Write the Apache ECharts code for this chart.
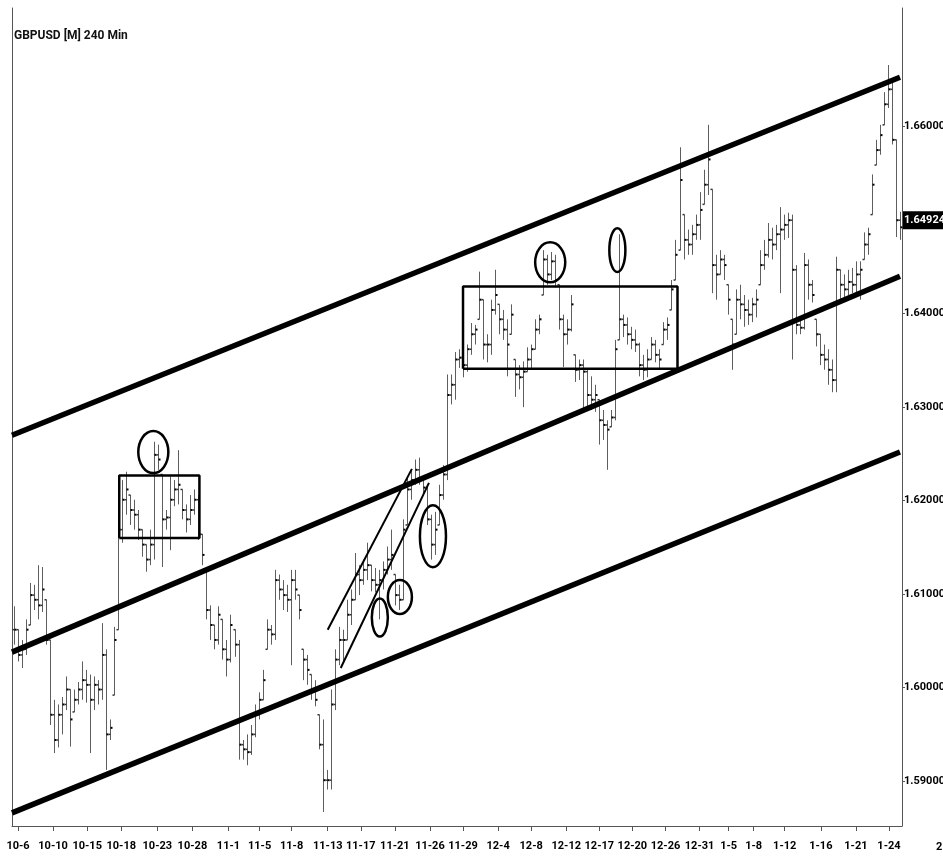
<!DOCTYPE html>
<html>
<head>
<meta charset="utf-8">
<title>GBPUSD [M] 240 Min</title>
<script src="https://cdn.jsdelivr.net/npm/echarts@6/dist/echarts.min.js"></script>
<style>
html, body { margin: 0; padding: 0; background: #fff; }
#main { width: 943px; height: 867px; }
</style>
</head>
<body>
<div id="main"></div>
<script>
// GBPUSD 240 min bars (one entry per bar)
var barHigh = [
  1.6087, 1.6062, 1.6051, 1.6073, 1.6112, 1.6110, 1.6131, 1.6129, 1.6094, 1.6051,
  1.5987, 1.5982, 1.5990, 1.6012, 1.5998, 1.5998, 1.6006, 1.6028, 1.6019, 1.6014,
  1.6012, 1.6008, 1.6069, 1.6041, 1.5966, 1.6065, 1.6180, 1.6222, 1.6231, 1.6206,
  1.6201, 1.6190, 1.6169, 1.6153, 1.6169, 1.6263, 1.6260, 1.6228, 1.6190, 1.6226,
  1.6222, 1.6254, 1.6212, 1.6196, 1.6206, 1.6212, 1.6206, 1.6164, 1.6126, 1.6088,
  1.6067, 1.6087, 1.6073, 1.6051, 1.6078, 1.6062, 1.6051, 1.5944, 1.5950, 1.5960,
  1.5982, 1.5995, 1.6019, 1.6073, 1.6067, 1.6126, 1.6121, 1.6115, 1.6110, 1.6126,
  1.6126, 1.6099, 1.6041, 1.6035, 1.6014, 1.6008, 1.5971, 1.5966, 1.5912, 1.5998,
  1.6041, 1.6065, 1.6062, 1.6094, 1.6105, 1.6144, 1.6131, 1.6137, 1.6155, 1.6131,
  1.6128, 1.6126, 1.6135, 1.6151, 1.6169, 1.6121, 1.6110, 1.6180, 1.6224, 1.6233,
  1.6244, 1.6246, 1.6224, 1.6217, 1.6185, 1.6188, 1.6217, 1.6238, 1.6335, 1.6335,
  1.6359, 1.6362, 1.6356, 1.6367, 1.6390, 1.6388, 1.6445, 1.6415, 1.6378, 1.6415,
  1.6447, 1.6410, 1.6404, 1.6394, 1.6410, 1.6351, 1.6345, 1.6349, 1.6364, 1.6367,
  1.6394, 1.6399, 1.6468, 1.6463, 1.6466, 1.6463, 1.6431, 1.6399, 1.6394, 1.6420,
  1.6356, 1.6351, 1.6351, 1.6340, 1.6333, 1.6324, 1.6308, 1.6297, 1.6286, 1.6297,
  1.6372, 1.6485, 1.6399, 1.6396, 1.6386, 1.6383, 1.6369, 1.6356, 1.6362, 1.6375,
  1.6372, 1.6362, 1.6391, 1.6396, 1.6436, 1.6479, 1.6578, 1.6506, 1.6490, 1.6495,
  1.6506, 1.6530, 1.6554, 1.6602, 1.6533, 1.6463, 1.6468, 1.6463, 1.6431, 1.6394,
  1.6426, 1.6431, 1.6420, 1.6415, 1.6417, 1.6426, 1.6468, 1.6479, 1.6497, 1.6492,
  1.6495, 1.6514, 1.6506, 1.6508, 1.6506, 1.6452, 1.6396, 1.6465, 1.6458, 1.6436,
  1.6394, 1.6378, 1.6367, 1.6362, 1.6351, 1.6461, 1.6447, 1.6442, 1.6447, 1.6449,
  1.6456, 1.6456, 1.6487, 1.6492, 1.6549, 1.6586, 1.6602, 1.6637, 1.6666, 1.6650,
  1.6586, 1.6509
];
var barLow = [
  1.6046, 1.6028, 1.6021, 1.6035, 1.6067, 1.6083, 1.6073, 1.6081, 1.6046, 1.5960,
  1.5930, 1.5936, 1.5950, 1.5976, 1.5937, 1.5974, 1.5982, 1.5987, 1.5984, 1.5930,
  1.5976, 1.5982, 1.5987, 1.5912, 1.5944, 1.5992, 1.6062, 1.6155, 1.6185, 1.6174,
  1.6169, 1.6158, 1.6140, 1.6124, 1.6131, 1.6137, 1.6233, 1.6129, 1.6169, 1.6147,
  1.6194, 1.6196, 1.6180, 1.6166, 1.6174, 1.6185, 1.6158, 1.6131, 1.6073, 1.6051,
  1.6041, 1.6046, 1.6030, 1.6012, 1.6027, 1.6033, 1.5923, 1.5923, 1.5917, 1.5928,
  1.5947, 1.5966, 1.5987, 1.6041, 1.6046, 1.6051, 1.6094, 1.6083, 1.6081, 1.6024,
  1.6094, 1.6073, 1.6008, 1.6003, 1.5987, 1.5980, 1.5934, 1.5867, 1.5891, 1.5891,
  1.5976, 1.6024, 1.6028, 1.6051, 1.6067, 1.6094, 1.6099, 1.6110, 1.6115, 1.6103,
  1.6102, 1.6073, 1.6105, 1.6121, 1.6126, 1.6088, 1.6083, 1.6094, 1.6174, 1.6201,
  1.6217, 1.6217, 1.6206, 1.6174, 1.6137, 1.6142, 1.6174, 1.6201, 1.6222, 1.6303,
  1.6308, 1.6342, 1.6332, 1.6338, 1.6356, 1.6367, 1.6394, 1.6351, 1.6348, 1.6356,
  1.6399, 1.6378, 1.6372, 1.6333, 1.6378, 1.6311, 1.6319, 1.6300, 1.6338, 1.6340,
  1.6362, 1.6378, 1.6420, 1.6431, 1.6436, 1.6428, 1.6383, 1.6343, 1.6367, 1.6381,
  1.6327, 1.6329, 1.6297, 1.6297, 1.6297, 1.6295, 1.6260, 1.6265, 1.6233, 1.6279,
  1.6286, 1.6372, 1.6375, 1.6367, 1.6362, 1.6359, 1.6333, 1.6329, 1.6332, 1.6351,
  1.6348, 1.6340, 1.6367, 1.6372, 1.6404, 1.6436, 1.6468, 1.6458, 1.6463, 1.6463,
  1.6479, 1.6479, 1.6517, 1.6527, 1.6422, 1.6415, 1.6442, 1.6436, 1.6399, 1.6340,
  1.6378, 1.6394, 1.6386, 1.6388, 1.6391, 1.6396, 1.6431, 1.6447, 1.6460, 1.6458,
  1.6468, 1.6422, 1.6479, 1.6481, 1.6351, 1.6378, 1.6378, 1.6383, 1.6415, 1.6412,
  1.6365, 1.6345, 1.6340, 1.6324, 1.6316, 1.6316, 1.6415, 1.6417, 1.6420, 1.6422,
  1.6423, 1.6415, 1.6458, 1.6463, 1.6506, 1.6559, 1.6570, 1.6602, 1.6620, 1.6581,
  1.6482, 1.6479
];
var barClose = [
  1.6062, 1.6035, 1.6041, 1.6062, 1.6099, 1.6094, 1.6088, 1.6105, 1.6051, 1.5971,
  1.5944, 1.5971, 1.5982, 1.5998, 1.5966, 1.5987, 1.5998, 1.6008, 1.6003, 1.5987,
  1.6003, 1.5998, 1.6035, 1.5950, 1.5957, 1.6051, 1.6169, 1.6201, 1.6212, 1.6190,
  1.6185, 1.6169, 1.6153, 1.6137, 1.6153, 1.6249, 1.6244, 1.6180, 1.6182, 1.6201,
  1.6212, 1.6217, 1.6190, 1.6180, 1.6190, 1.6201, 1.6164, 1.6142, 1.6083, 1.6067,
  1.6051, 1.6078, 1.6041, 1.6030, 1.6067, 1.6046, 1.5939, 1.5934, 1.5931, 1.5950,
  1.5971, 1.5987, 1.6008, 1.6062, 1.6057, 1.6115, 1.6105, 1.6099, 1.6094, 1.6115,
  1.6105, 1.6083, 1.6030, 1.6019, 1.5998, 1.5987, 1.5939, 1.5901, 1.5901, 1.5982,
  1.6030, 1.6051, 1.6051, 1.6078, 1.6094, 1.6121, 1.6115, 1.6126, 1.6131, 1.6115,
  1.6110, 1.6115, 1.6126, 1.6137, 1.6142, 1.6099, 1.6094, 1.6169, 1.6212, 1.6222,
  1.6233, 1.6224, 1.6214, 1.6180, 1.6153, 1.6169, 1.6206, 1.6228, 1.6313, 1.6324,
  1.6351, 1.6353, 1.6345, 1.6362, 1.6378, 1.6383, 1.6415, 1.6367, 1.6367, 1.6404,
  1.6420, 1.6394, 1.6383, 1.6367, 1.6399, 1.6335, 1.6332, 1.6338, 1.6351, 1.6362,
  1.6383, 1.6394, 1.6458, 1.6442, 1.6456, 1.6436, 1.6394, 1.6378, 1.6383, 1.6410,
  1.6340, 1.6345, 1.6338, 1.6313, 1.6308, 1.6313, 1.6286, 1.6281, 1.6276, 1.6289,
  1.6362, 1.6394, 1.6388, 1.6378, 1.6372, 1.6367, 1.6345, 1.6340, 1.6351, 1.6367,
  1.6356, 1.6351, 1.6383, 1.6388, 1.6426, 1.6463, 1.6543, 1.6479, 1.6474, 1.6485,
  1.6495, 1.6511, 1.6538, 1.6565, 1.6452, 1.6442, 1.6458, 1.6452, 1.6415, 1.6367,
  1.6415, 1.6410, 1.6404, 1.6399, 1.6410, 1.6415, 1.6452, 1.6463, 1.6479, 1.6474,
  1.6485, 1.6490, 1.6495, 1.6500, 1.6447, 1.6388, 1.6385, 1.6452, 1.6431, 1.6420,
  1.6378, 1.6356, 1.6351, 1.6340, 1.6329, 1.6447, 1.6431, 1.6426, 1.6434, 1.6431,
  1.6442, 1.6447, 1.6474, 1.6485, 1.6538, 1.6575, 1.6591, 1.6624, 1.6640, 1.6586,
  1.6500, 1.64924
];

// date labels under the bars (bar position -> text)
var tickIdx = [1, 9.75, 18.25, 26.75, 35.75, 44.5, 53.5, 61.25, 69.25, 78.25, 86.5, 95, 103.75, 112,
  120.75, 129, 137.75, 146, 154.25, 162.5, 171, 178.25, 184.5, 192.25, 201.25, 210, 218.25];
var tickText = ['10-6', '10-10', '10-15', '10-18', '10-23', '10-28', '11-1', '11-5', '11-8', '11-13', '11-17', '11-21', '11-26', '11-29',
  '12-4', '12-8', '12-12', '12-17', '12-20', '12-26', '12-31', '1-5', '1-8', '1-12', '1-16', '1-21', '1-24'];
// 1.65000 sits under the last price box, so it is left out
var priceTicks = [1.59, 1.60, 1.61, 1.62, 1.63, 1.64, 1.66];

// drawn lines: [barPos, price] end points
var channelUpper = [[-0.5, 1.6270], [221, 1.6653]];
var channelMid = [[-0.5, 1.6038], [221, 1.6440]];
var channelLow = [[-0.5, 1.5866], [221, 1.6252]];
var riseUpper = [[78.25, 1.6062], [99.25, 1.6234]];
var riseLower = [[81.5, 1.6021], [103.5, 1.6219]];

// boxes: [left bar, right bar], [low price, high price]
var boxLeftX = [26.25, 46.25], boxLeftY = [1.6160, 1.6227];
var boxBigX = [112, 165.5], boxBigY = [1.6341, 1.6429];

// circles: center bar, center price, half width (bars), half height (price)
var ellipses = [
  [34.75, 1.6252, 3.75, 0.00225],
  [133.75, 1.6455, 3.75, 0.00214],
  [150.5, 1.6468, 2.0, 0.00235],
  [91.25, 1.6075, 2.0, 0.00203],
  [96.25, 1.6097, 3.0, 0.00182],
  [104.5, 1.6162, 3.25, 0.00332]
];

var FONT = "'Roboto', 'Liberation Sans', sans-serif";
var N = barClose.length;
var lastPrice = barClose[N - 1];

var rows = [];
for (var i = 0; i < N; i++) {
  var prev = i > 0 ? barClose[i - 1] : barClose[i];
  var open = Math.min(barHigh[i], Math.max(barLow[i], prev));
  rows.push([i, open, barHigh[i], barLow[i], barClose[i]]);
}

function boxPath(xs, ys) {
  return [[xs[0], ys[0]], [xs[1], ys[0]], [xs[1], ys[1]], [xs[0], ys[1]], [xs[0], ys[0]]];
}

function renderBar(params, api) {
  var i = api.value(0);
  var o = api.coord([i, api.value(1)]);
  var h = api.coord([i, api.value(2)]);
  var l = api.coord([i, api.value(3)]);
  var c = api.coord([i, api.value(4)]);
  var x = Math.round(h[0]) + 0.5;
  return {
    type: 'group',
    children: [
      { type: 'line', shape: { x1: x, y1: h[1], x2: x, y2: l[1] }, style: { stroke: '#5e5e5e', lineWidth: 1 } },
      { type: 'line', shape: { x1: x - 2, y1: o[1], x2: x, y2: o[1] }, style: { stroke: '#333', lineWidth: 1.5 } },
      { type: 'line', shape: { x1: x, y1: c[1], x2: x + 2, y2: c[1] }, style: { stroke: '#000', lineWidth: 2 } }
    ]
  };
}

function renderEllipse(params, api) {
  var c = api.coord([api.value(0), api.value(1)]);
  var e = api.coord([api.value(0) + api.value(2), api.value(1) + api.value(3)]);
  return {
    type: 'ellipse',
    shape: { cx: c[0], cy: c[1], rx: Math.abs(e[0] - c[0]), ry: Math.abs(c[1] - e[1]) },
    style: { fill: 'none', stroke: '#000', lineWidth: 2.5 }
  };
}

function lineSeries(data, width) {
  return {
    type: 'line', data: data, symbol: 'none', silent: true, z: 5,
    lineStyle: { color: '#000', width: width }
  };
}

// last price box on the price scale
var lowSeries = lineSeries(channelLow, 5.5);
lowSeries.markLine = {
  symbol: 'none', silent: true, animation: false,
  lineStyle: { color: 'rgba(0,0,0,0)', width: 0 },
  label: {
    show: true, position: 'end', distance: 1,
    formatter: lastPrice.toFixed(5),
    color: '#fff', backgroundColor: '#000',
    fontFamily: FONT, fontWeight: 'bold', fontSize: 11,
    padding: [4, 1, 3, 1]
  },
  data: [{ yAxis: lastPrice }]
};

var myChart = echarts.init(document.getElementById('main'));
var option = {
  animation: false,
  backgroundColor: '#fff',
  title: {
    text: 'GBPUSD [M] 240 Min', left: 9, top: 25,
    textStyle: { fontFamily: FONT, fontWeight: 'bold', fontSize: 12, color: '#111' }
  },
  grid: { left: 12, right: 41, top: 8, bottom: 41, outerBoundsMode: 'none' },
  xAxis: {
    type: 'value', min: -0.5, max: N - 0.5,
    splitLine: { show: false },
    axisLine: { show: true, onZero: false, lineStyle: { color: '#555', width: 1 } },
    axisTick: { show: true, customValues: tickIdx, length: 5, lineStyle: { color: '#555' } },
    axisLabel: {
      customValues: tickIdx, margin: 15, hideOverlap: false,
      formatter: function (v) {
        var k = tickIdx.indexOf(v);
        return k >= 0 ? tickText[k] : '';
      },
      fontFamily: FONT, fontWeight: 'bold', fontSize: 11, color: '#000'
    }
  },
  yAxis: [
    {
      type: 'value', position: 'right', min: 1.5852, max: 1.6727,
      splitLine: { show: false },
      axisLine: { show: true, onZero: false, lineStyle: { color: '#555', width: 1 } },
      axisTick: { show: true, customValues: priceTicks, length: 3, lineStyle: { color: '#555' } },
      axisLabel: {
        customValues: priceTicks, margin: 2,
        formatter: function (v) { return v.toFixed(5); },
        fontFamily: FONT, fontWeight: 'bold', fontSize: 11, color: '#000'
      }
    },
    {
      type: 'value', position: 'left', min: 1.5852, max: 1.6727,
      splitLine: { show: false },
      axisLine: { show: true, onZero: false, lineStyle: { color: '#555', width: 1 } },
      axisTick: { show: false },
      axisLabel: { show: false }
    }
  ],
  graphic: [
    { type: 'text', left: 936, top: 842, style: { text: '2', font: 'bold 11px ' + FONT, fill: '#000' } }
  ],
  series: [
    {
      type: 'custom', renderItem: renderBar, data: rows, silent: true, z: 2,
      encode: { x: 0, y: [1, 2, 3, 4] }
    },
    lineSeries(channelUpper, 5.5),
    lineSeries(channelMid, 5.5),
    lowSeries,
    lineSeries(riseUpper, 2),
    lineSeries(riseLower, 2),
    lineSeries(boxPath(boxLeftX, boxLeftY), 2.5),
    lineSeries(boxPath(boxBigX, boxBigY), 2.5),
    {
      type: 'custom', renderItem: renderEllipse, data: ellipses, silent: true, z: 6,
      encode: { x: 0, y: 1 }
    }
  ]
};
myChart.setOption(option);
</script>
</body>
</html>
